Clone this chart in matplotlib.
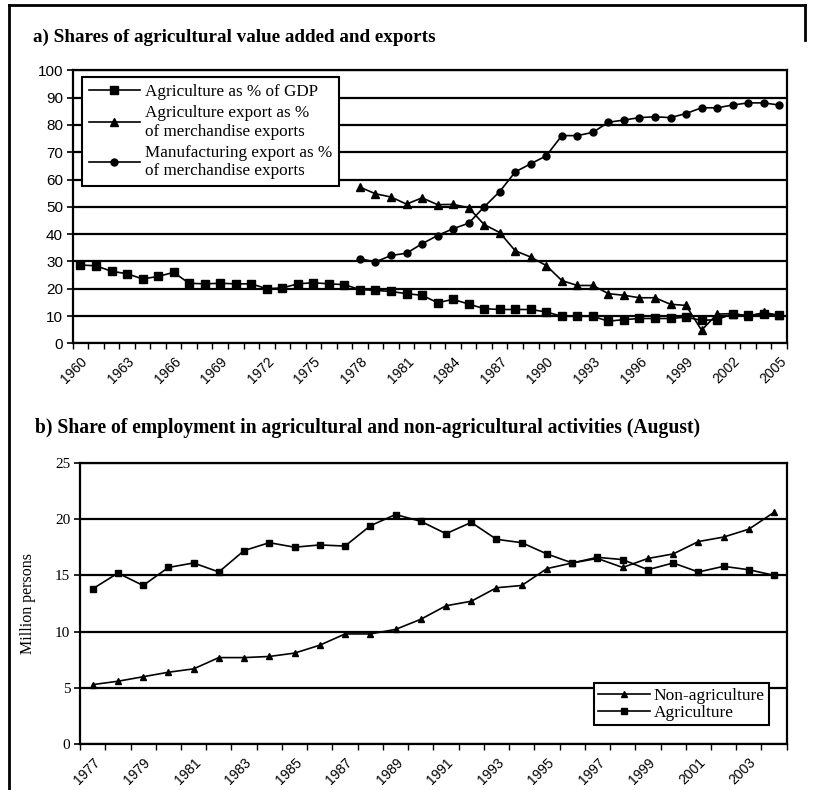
import numpy as np
import matplotlib
matplotlib.use("Agg")
import matplotlib.pyplot as plt
from matplotlib.lines import Line2D
from matplotlib.ticker import FixedLocator

plt.rcParams['font.family'] = ['Liberation Serif', 'DejaVu Serif']
SANS = ['Liberation Sans', 'DejaVu Sans']

# panel a) shares, per cent
years_a = list(range(1960, 2006))
agri_gdp = [28.7, 28.4, 26.4, 25.5, 23.6, 24.5, 26.0, 22.0, 21.8, 22.0,
            21.8, 21.8, 20.0, 20.3, 21.8, 22.2, 21.8, 21.5, 19.7, 19.4,
            19.0, 18.2, 17.6, 14.9, 16.1, 14.4, 12.7, 12.4, 12.4, 12.4,
            11.5, 9.9, 9.9, 9.9, 8.1, 8.7, 9.1, 9.1, 9.1, 9.6,
            8.4, 8.7, 10.8, 10.2, 10.9, 10.2]
years_exp = list(range(1978, 2006))
agri_exp = [57.2, 54.8, 53.6, 51.0, 53.3, 50.8, 50.9, 49.7, 43.5, 40.6,
            33.9, 31.6, 28.5, 23.0, 21.2, 21.2, 18.2, 17.6, 16.7, 16.7,
            14.3, 13.9, 4.8, 10.7, 10.9, 9.9, 11.3, 10.3]
manuf_exp = [31.0, 29.8, 32.2, 33.0, 36.5, 39.5, 42.0, 44.0, 50.0, 55.6,
             62.8, 65.8, 68.7, 76.1, 76.1, 77.3, 81.0, 81.8, 82.7, 83.0,
             82.7, 84.2, 86.3, 86.3, 87.3, 88.1, 88.1, 87.3]

# panel b) employment, million persons
years_b = list(range(1977, 2005))
non_agri = [5.3, 5.6, 6.0, 6.4, 6.7, 7.7, 7.7, 7.8, 8.1, 8.8,
            9.8, 9.8, 10.2, 11.1, 12.3, 12.7, 13.9, 14.1, 15.6, 16.1,
            16.5, 15.7, 16.5, 16.9, 18.0, 18.4, 19.1, 20.6]
agri_emp = [13.8, 15.2, 14.1, 15.7, 16.1, 15.3, 17.2, 17.9, 17.5, 17.7,
            17.6, 19.4, 20.4, 19.8, 18.7, 19.7, 18.2, 17.9, 16.9, 16.1,
            16.6, 16.4, 15.5, 16.1, 15.3, 15.8, 15.5, 15.0]

fig = plt.figure(figsize=(8.15, 7.9), dpi=100)


def style_axes(ax, first, last, step, ymax, ystep, yfont):
    for s in ax.spines.values():
        s.set_linewidth(1.6)
        s.set_color('black')
    ax.set_ylim(0, ymax)
    ax.set_yticks(np.arange(0, ymax + 1, ystep))
    ax.yaxis.grid(True, color='black', lw=1.6)
    ax.set_axisbelow(True)
    ax.set_xlim(first - 0.5, last + 0.5)
    ax.set_xticks(range(first, last + 1, step))
    ax.xaxis.set_minor_locator(FixedLocator(np.arange(first - 0.5, last + 1.0, 1)))
    ax.tick_params(axis='x', which='major', length=0, pad=8)
    ax.tick_params(axis='x', which='minor', length=4, width=1, direction='out')
    ax.tick_params(axis='y', which='major', length=4, width=1.2, pad=3)
    for lab in ax.get_xticklabels():
        lab.set_rotation(45)
        lab.set_ha('right')
        lab.set_rotation_mode('anchor')
        lab.set_family(SANS)
        lab.set_fontsize(10)
    for lab in ax.get_yticklabels():
        lab.set_family(yfont)
        lab.set_fontsize(11)


# a) Shares of agricultural value added and exports
ax1 = fig.add_axes([0.0892, 0.5654, 0.8764, 0.3455])
ax1.plot(years_a, agri_gdp, color='black', lw=1.2, marker='s', ms=5.5,
         label='Agriculture as % of GDP')
ax1.plot(years_exp, agri_exp, color='black', lw=1.2, marker='^', ms=6,
         label='Agriculture export as %\nof merchandise exports')
ax1.plot(years_exp, manuf_exp, color='black', lw=1.2, marker='o', ms=5,
         label='Manufacturing export as %\nof merchandise exports')
style_axes(ax1, 1960, 2005, 3, 100, 10, SANS)
leg1 = ax1.legend(loc='upper left', bbox_to_anchor=(0.013, 0.975), borderaxespad=0,
                  fontsize=12.3, frameon=True, fancybox=False, framealpha=1,
                  edgecolor='black', handlelength=3, handletextpad=0.3,
                  labelspacing=0.3, borderpad=0.4)
leg1.get_frame().set_linewidth(1.5)
for t in leg1.get_texts():
    t.set_linespacing(1.2)

# b) Share of employment
ax2 = fig.add_axes([0.0982, 0.0578, 0.8671, 0.3565])
ax2.plot(years_b, non_agri, color='black', lw=1.2, marker='^', ms=5,
         label='Non-agriculture')
ax2.plot(years_b, agri_emp, color='black', lw=1.2, marker='s', ms=4.5,
         label='Agriculture')
style_axes(ax2, 1977, 2004, 2, 25, 5, ['Liberation Serif', 'DejaVu Serif'])
ax2.set_ylabel('Million persons', fontsize=11.5)
ax2.yaxis.set_label_coords(-0.063, 0.5)
leg2 = ax2.legend(loc='lower right', bbox_to_anchor=(0.975, 0.0685), borderaxespad=0,
                  fontsize=12.5, frameon=True, fancybox=False, framealpha=1,
                  edgecolor='black', handlelength=3, handletextpad=0.2,
                  labelspacing=0.05, borderpad=0.25)
leg2.get_frame().set_linewidth(1.5)

fig.text(0.040, 1 - 37 / 790, 'a) Shares of agricultural value added and exports',
         fontsize=13.8, fontweight='bold', va='center', ha='left')
fig.text(0.043, 1 - 428 / 790,
         'b) Share of employment in agricultural and non-agricultural activities (August)',
         fontsize=14.1, fontweight='bold', va='center', ha='left')

# page frame
fig.add_artist(Line2D([9 / 815, 9 / 815], [0, 1 - 5 / 790], color='black', lw=2))
fig.add_artist(Line2D([9 / 815, 805 / 815], [1 - 5 / 790, 1 - 5 / 790], color='black', lw=2))
fig.add_artist(Line2D([805 / 815, 805 / 815], [1 - 5 / 790, 1 - 40 / 790], color='black', lw=2))

fig.savefig('out.png', dpi=100)
